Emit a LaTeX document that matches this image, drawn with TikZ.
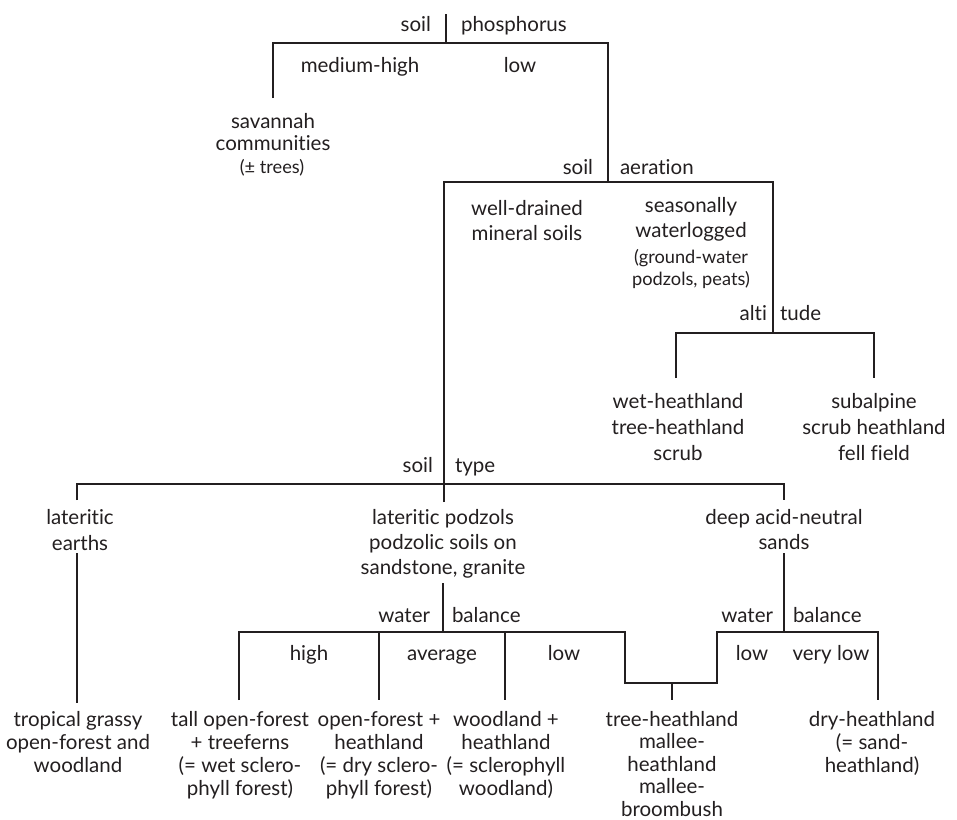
\documentclass[tikz,border=0pt]{standalone}
\usepackage{fontspec}
\setmainfont{Lato}[Ligatures=NoCommon]
\definecolor{ink}{RGB}{35,31,32}
\newcommand{\fl}{\rule{0pt}{17pt}}
\tikzset{
  ln/.style={draw=ink, line width=2.6pt, line join=miter},
  lbl/.style={inner sep=0pt, outer sep=0pt, text=ink, font=\fontsize{20.5}{25}\selectfont},
  grp/.style={lbl, align=center, anchor=north},
  smallfont/.style={font=\fontsize{18.2}{22}\selectfont},
  sp/.style={font=\fontsize{20.5}{#1}\selectfont},
}
\begin{document}
\begin{tikzpicture}[x=1pt, y=-1pt]
\fill[white] (0,0) rectangle (957,819);
\useasboundingbox (0,0) rectangle (957,819);

% ---- coordinates of the tree lines
\coordinate (pT) at (446,14);  \coordinate (pJ) at (446,43);
\coordinate (pL) at (273,43);  \coordinate (pLe) at (273,98);
\coordinate (pR) at (608,43);
\coordinate (aJ) at (608,182); \coordinate (aL) at (444,182);
\coordinate (aR) at (773,182);
\coordinate (tJ) at (773,333); \coordinate (tL) at (676,333);
\coordinate (tR) at (874,333); \coordinate (tLe) at (676,378);
\coordinate (tRe) at (874,378);
\coordinate (sL) at (77,484);  \coordinate (sR) at (784,484);
\coordinate (sLe) at (77,500); \coordinate (sRe) at (784,500);
\coordinate (sMe) at (444,502);
\coordinate (latA) at (77,553); \coordinate (latB) at (77,703);
\coordinate (dT) at (784,553); \coordinate (dJ) at (784,632);
\coordinate (wT) at (443,583); \coordinate (wJ) at (443,632);
\coordinate (wA) at (239,632); \coordinate (wAe) at (239,700);
\coordinate (wB) at (379,632); \coordinate (wBe) at (379,700);
\coordinate (wC) at (505,632); \coordinate (wCe) at (505,700);
\coordinate (wD) at (625,632); \coordinate (wE) at (625,683);
\coordinate (wF) at (717,683); \coordinate (wG) at (717,632);
\coordinate (wH) at (878,632); \coordinate (wHe) at (878,700);
\coordinate (wM) at (672,683); \coordinate (wMe) at (672,700);

% ---- connectors
\draw[ln] (pT) -- (pJ);
\draw[ln] (pLe) -- (pL) -- (pR) -- (aJ);
\draw[ln] (sMe) -- (aL) -- (aR) -- (tJ);
\draw[ln] (tLe) -- (tL) -- (tR) -- (tRe);
\draw[ln] (sLe) -- (sL) -- (sR) -- (sRe);
\draw[ln] (latA) -- (latB);
\draw[ln] (dT) -- (dJ);
\draw[ln] (wT) -- (wJ);
\draw[ln] (wAe) -- (wA) -- (wD) -- (wE) -- (wF) -- (wG) -- (wH) -- (wHe);
\draw[ln] (wB) -- (wBe);
\draw[ln] (wC) -- (wCe);
\draw[ln] (wM) -- (wMe);

% ---- labels
\node[lbl, anchor=base east] (soilP) at (431,31) {soil};
\node[lbl, anchor=base west] (phos) at (461,31) {phosphorus};
\node[lbl, anchor=base] (medhigh) at (360,72) {medium-high};
\node[lbl, anchor=base] (lowP) at (520,72) {low};
\node[grp, sp=22] (sav) at (273,111) {\fl savannah\\communities};
\node[lbl, smallfont, anchor=base] (trees) at (272,173) {(± trees)};

\node[lbl, anchor=base east] (soilA) at (593,174) {soil};
\node[lbl, anchor=base west] (aer) at (620,174) {aeration};
\node[grp, sp=25] (well) at (527,198) {\fl well-drained\\mineral soils};
\node[grp, sp=25] (seas) at (691,195) {\fl seasonally\\waterlogged};
\node[grp, smallfont] (gw) at (691,246) {\fl (ground-water\\podzols, peats)};

\node[lbl, anchor=base east] (alti) at (767,320) {alti};
\node[lbl, anchor=base west] (tude) at (780,320) {tude};
\node[grp, sp=26] (wet) at (678,391) {\fl wet-heathland\\tree-heathland\\scrub};
\node[grp, sp=26] (sub) at (874,391) {\fl subalpine\\scrub heathland\\fell field};

\node[lbl, anchor=base east] (soilT) at (433,472) {soil};
\node[lbl, anchor=base west] (type) at (455,472) {type};
\node[grp, sp=26] (lat) at (80,507) {\fl lateritic\\earths};
\node[grp, sp=25] (pod) at (443,507) {\fl lateritic podzols\\podzolic soils on\\sandstone, granite};
\node[grp, sp=25] (deep) at (784,507) {\fl deep acid-neutral\\sands};

\node[lbl, anchor=base east] (waterL) at (430,622) {water};
\node[lbl, anchor=base west] (balL) at (452,622) {balance};
\node[lbl, anchor=base east] (waterR) at (773,622) {water};
\node[lbl, anchor=base west] (balR) at (793,622) {balance};

\node[lbl, anchor=base] (high) at (309,660) {high};
\node[lbl, anchor=base] (avg) at (442,660) {average};
\node[lbl, anchor=base] (lowL) at (564,660) {low};
\node[lbl, anchor=base] (lowR) at (752,660) {low};
\node[lbl, anchor=base] (vlow) at (831,660) {very low};

\node[grp, sp=23] (trop) at (78,709) {\fl tropical grassy\\open-forest and\\woodland};
\node[grp, sp=23] (tall) at (240,709) {\fl tall open-forest\\+ treeferns\\(= wet sclero-\\phyll forest)};
\node[grp, sp=23] (open) at (379,709) {\fl open-forest +\\heathland\\(= dry sclero-\\phyll forest)};
\node[grp, sp=23] (wood) at (506,709) {\fl woodland +\\heathland\\(= sclerophyll\\woodland)};
\node[grp, sp=22.6] (treeh) at (672,709) {\fl tree-heathland\\mallee-\\heathland\\mallee-\\broombush};
\node[grp, sp=23] (dry) at (872,709) {\fl dry-heathland\\(= sand-\\heathland)};
\end{tikzpicture}
\end{document}
